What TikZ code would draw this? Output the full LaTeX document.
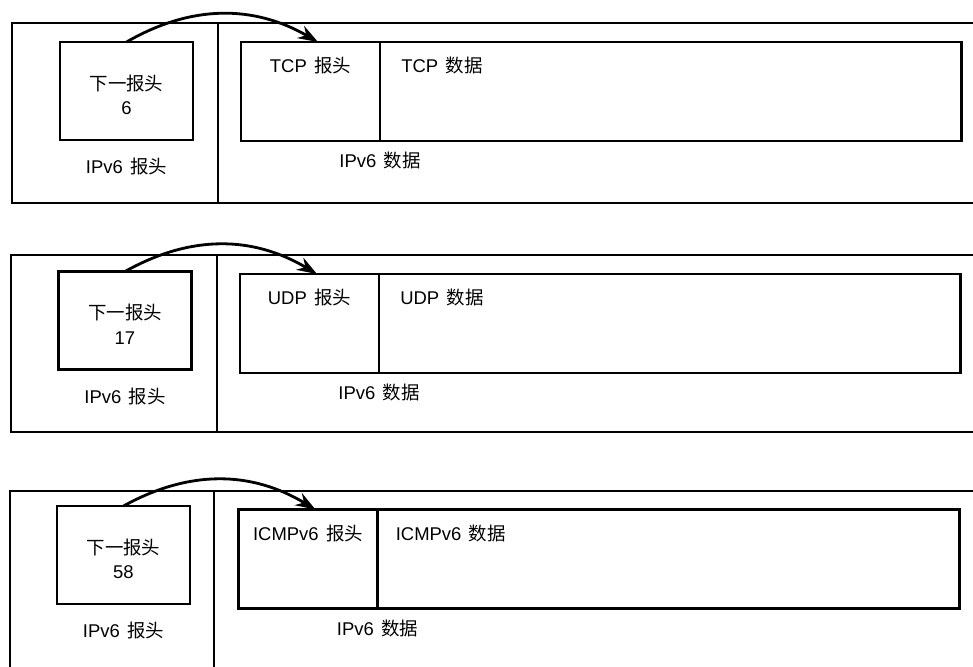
\documentclass[tikz,border=0pt]{standalone}
\usepackage{fontspec}
\setmainfont{Liberation Sans}
\newfontfamily\cjk{Noto Sans CJK SC}
\usepackage{tikz}
\usetikzlibrary{arrows.meta,positioning}

\newcommand{\lbl}[2]{#1\hspace{0.4em}{\cjk #2}}

\tikzset{
  frame/.style={line width=1.6pt},
  nhbox/.style={draw, line width=1.6pt, minimum width=2.66cm, minimum height=1.96cm, inner sep=0pt, outer sep=0pt},
  protobox/.style={draw, line width=1.6pt, minimum width=2.78cm, minimum height=1.98cm, inner sep=0pt, outer sep=0pt},
  databox/.style={draw, line width=1.6pt, minimum width=11.64cm, minimum height=1.98cm, inner sep=0pt, outer sep=0pt},
  txt/.style={inner sep=0pt, align=center, font=\fontsize{10.5}{14}\selectfont},
  jump/.style={line width=1.6pt, -{Stealth[length=4mm,width=2.8mm]}}
}

\begin{document}
\begin{tikzpicture}[x=0.02cm, y=0.02cm, font=\fontsize{10.5}{14}\selectfont]
  \useasboundingbox (0,0) rectangle (973,-666);

  % TCP
  \draw[frame] (973,-23) -- (12,-23) -- (12,-203) -- (973,-203);
  \draw[frame] (218,-23) -- (218,-203);
  \node[nhbox] (nh1) at (126.5,-91) {};
  \node[txt] (nt1) at ([yshift=-0.08cm]nh1.center) {{\cjk 下一报头}\\6};
  \node[protobox] (th1) at (310.5,-91.5) {};
  \node[databox, right=0pt of th1.east, anchor=west] (td1) {};
  \node[txt, below=0.3cm of th1.north] (thl1) {\lbl{TCP}{报头}};
  \node[txt, below right=0.3cm and 0.42cm of td1.north west] (tdl1) {\lbl{TCP}{数据}};
  \node[txt, below=0.22cm of th1.south east] (dl1) {\lbl{IPv6}{数据}};
  \node[txt, below=0.36cm of nh1] (hl1) {\lbl{IPv6}{报头}};
  \draw[jump] (nh1.north) to[bend left=30] ([xshift=0.15cm]th1.north);

  % UDP
  \draw[frame] (973,-255) -- (11,-255) -- (11,-432) -- (973,-432);
  \draw[frame] (217,-255) -- (217,-432);
  \node[nhbox] (nh2) at (125,-320.5) {};
  \node[txt] (nt2) at ([yshift=-0.08cm]nh2.center) {{\cjk 下一报头}\\17};
  \node[protobox] (th2) at (309.5,-323.5) {};
  \node[databox, right=0pt of th2.east, anchor=west] (td2) {};
  \node[txt, below=0.3cm of th2.north] (thl2) {\lbl{UDP}{报头}};
  \node[txt, below right=0.3cm and 0.42cm of td2.north west] (tdl2) {\lbl{UDP}{数据}};
  \node[txt, below=0.22cm of th2.south east] (dl2) {\lbl{IPv6}{数据}};
  \node[txt, below=0.36cm of nh2] (hl2) {\lbl{IPv6}{报头}};
  \draw[jump] (nh2.north) to[bend left=30] ([xshift=0.15cm]th2.north);

  % ICMPv6
  \draw[frame] (973,-491) -- (10,-491) -- (10,-672) -- (973,-672);
  \draw[frame] (214,-491) -- (214,-672);
  \node[nhbox] (nh3) at (123.5,-555) {};
  \node[txt] (nt3) at ([yshift=-0.08cm]nh3.center) {{\cjk 下一报头}\\58};
  \node[protobox] (th3) at (308,-559) {};
  \node[databox, right=0pt of th3.east, anchor=west] (td3) {};
  \node[txt, below=0.3cm of th3.north] (thl3) {\lbl{ICMPv6}{报头}};
  \node[txt, below right=0.3cm and 0.36cm of td3.north west] (tdl3) {\lbl{ICMPv6}{数据}};
  \node[txt, below=0.22cm of th3.south east] (dl3) {\lbl{IPv6}{数据}};
  \node[txt, below=0.36cm of nh3] (hl3) {\lbl{IPv6}{报头}};
  \draw[jump] (nh3.north) to[bend left=30] ([xshift=0.15cm]th3.north);
\end{tikzpicture}
\end{document}
